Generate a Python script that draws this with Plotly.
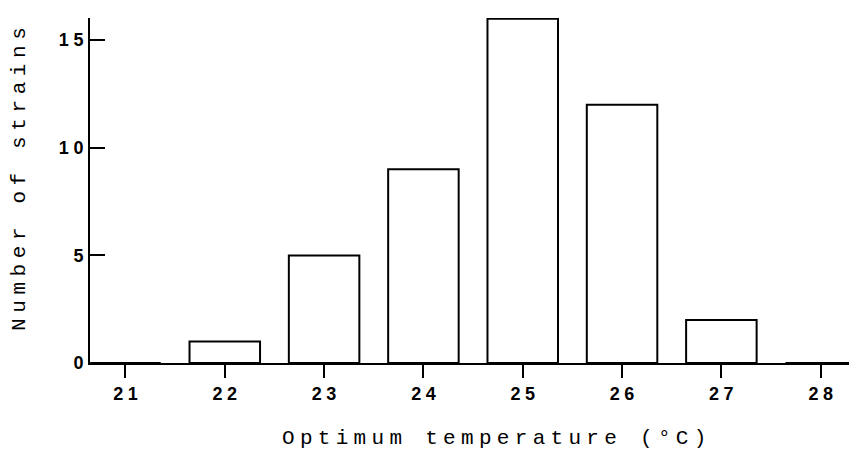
import plotly.graph_objects as go

temperatures = [21, 22, 23, 24, 25, 26, 27, 28]
strain_counts = [0, 1, 5, 9, 16, 12, 2, 0]
x_tick_vals = [21, 22, 23, 24, 25, 26, 27, 28]
x_tick_text = [str(v) for v in x_tick_vals]
y_tick_vals = [0, 5, 10, 15]
y_tick_text = [str(v) for v in y_tick_vals]
x_title = "Optimum temperature (°C)"
y_title = "Number of strains"

tick_font = dict(family="Liberation Sans, Arial, sans-serif", size=18, color="black", weight="bold")


def spaced(label, px):
    # letter spacing between characters only (no trailing space after last char)
    if len(label) < 2:
        return label
    return '<span style="letter-spacing:%spx">%s</span>%s' % (px, label[:-1], label[-1])


fig = go.Figure()
fig.add_trace(go.Bar(
    x=temperatures,
    y=strain_counts,
    width=0.71,
    marker=dict(color="white", line=dict(color="black", width=2)),
    cliponaxis=False,
    showlegend=False,
    hoverinfo="skip",
))

plot_l, plot_r = 90, 849
plot_t, plot_b = 18, 363

fig.update_layout(
    width=849,
    height=451,
    margin=dict(l=plot_l, r=849 - plot_r, t=plot_t, b=451 - plot_b, autoexpand=False),
    paper_bgcolor="white",
    plot_bgcolor="white",
    xaxis=dict(
        range=[20.643, 28.285],
        tickmode="array",
        tickvals=x_tick_vals,
        ticktext=[spaced(t, 4.5) for t in x_tick_text],
        ticks="outside",
        ticklen=13,
        tickwidth=2,
        tickcolor="black",
        showline=True,
        linecolor="black",
        linewidth=2,
        showgrid=False,
        zeroline=False,
        tickfont=tick_font,
        ticklabelstandoff=0,
        automargin=False,
    ),
    yaxis=dict(
        range=[0, 16.03],
        tickmode="array",
        tickvals=y_tick_vals,
        ticktext=[spaced(t, 4.5) for t in y_tick_text],
        ticks="inside",
        ticklen=15,
        tickwidth=2,
        tickcolor="black",
        showline=True,
        linecolor="black",
        linewidth=2,
        showgrid=False,
        zeroline=False,
        tickfont=tick_font,
        ticklabelstandoff=1,
        automargin=False,
    ),
)

title_font = dict(family="Liberation Mono, Courier New, monospace", size=21, color="black")
fig.add_annotation(
    text=spaced(x_title, 5.3),
    x=(494 - plot_l) / (plot_r - plot_l), y=(plot_b - 439) / (plot_b - plot_t),
    xref="paper", yref="paper", xanchor="center", yanchor="middle",
    showarrow=False, font=title_font,
)
fig.add_annotation(
    text=spaced(y_title, 5.6),
    x=(19 - plot_l) / (plot_r - plot_l), y=(plot_b - 179) / (plot_b - plot_t),
    xref="paper", yref="paper", xanchor="center", yanchor="middle",
    showarrow=False, textangle=-90, font=title_font,
)

fig.write_html(
    "out.html",
    config={"displayModeBar": False},
    post_script="document.body.style.margin='0';document.body.style.overflow='hidden';",
)
